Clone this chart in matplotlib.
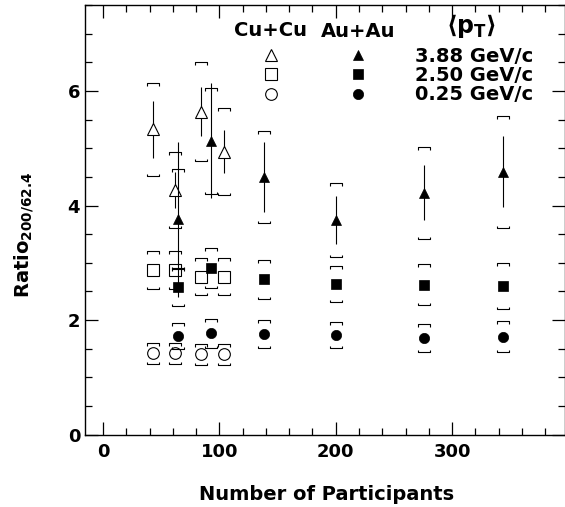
import matplotlib
matplotlib.use('Agg')
import matplotlib.pyplot as plt
from matplotlib.path import Path
from matplotlib.legend_handler import HandlerTuple
from matplotlib.ticker import MultipleLocator, FixedLocator
import numpy as np

plt.rcParams['font.family'] = ['DejaVu Sans']
plt.rcParams['font.weight'] = 'bold'
plt.rcParams['mathtext.fontset'] = 'dejavusans'
plt.rcParams['mathtext.default'] = 'bf'

# ---------------- data ----------------
npart_auau = [64, 93, 138, 200, 276, 344]
npart_cucu = [43, 62, 84, 104]

auau_388 = [3.76, 5.13, 4.50, 3.75, 4.22, 4.59]
auau_388_stat = [1.35, 1.00, 0.61, 0.42, 0.48, 0.62]
auau_388_sys = [0.87, 0.93, 0.80, 0.65, 0.80, 0.98]

auau_250 = [2.58, 2.91, 2.71, 2.63, 2.62, 2.60]
auau_250_sys = [0.33, 0.345, 0.34, 0.32, 0.36, 0.40]

auau_025 = [1.72, 1.77, 1.76, 1.74, 1.69, 1.71]
auau_025_sys = [0.23, 0.25, 0.24, 0.22, 0.24, 0.27]

cucu_388 = [5.33, 4.27, 5.64, 4.94]
cucu_388_stat = [0.50, 0.31, 0.43, 0.38]
cucu_388_sys = [0.81, 0.67, 0.87, 0.76]

cucu_250 = [2.87, 2.87, 2.76, 2.76]
cucu_250_sys = [0.33, 0.33, 0.32, 0.32]

cucu_025 = [1.42, 1.42, 1.40, 1.40]
cucu_025_sys = [0.18, 0.18, 0.185, 0.185]

pt_labels = ['3.88 GeV/c', '2.50 GeV/c', '0.25 GeV/c']
x_ticks = [0, 100, 200, 300]
y_ticks = [0, 2, 4, 6]

# ---------------- figure ----------------
W, H = 565, 507
fig = plt.figure(figsize=(W / 100, H / 100), dpi=100)
ax = fig.add_axes([85 / W, 1 - 434.7 / H, 480 / W, 429.7 / H])
ax.set_xlim(-15.5, 397)
ax.set_ylim(0, 7.5)

for sp in ax.spines.values():
    sp.set_linewidth(1.0)

ax.xaxis.set_major_locator(FixedLocator(x_ticks))
ax.xaxis.set_minor_locator(MultipleLocator(20))
ax.yaxis.set_major_locator(FixedLocator(y_ticks))
ax.yaxis.set_minor_locator(MultipleLocator(0.5))
ax.tick_params(which='both', direction='in', top=True, right=True, width=0.9)
ax.tick_params(which='major', length=9.5)
ax.tick_params(which='minor', length=5)
ax.tick_params(axis='x', which='major', pad=6, labelsize=13)
ax.tick_params(axis='y', which='major', pad=3.5, labelsize=13)
for lab in ax.get_xticklabels() + ax.get_yticklabels():
    lab.set_fontweight('bold')

top_br = Path([(-1, -0.4), (-1, 0), (1, 0), (1, -0.4)],
              [Path.MOVETO, Path.LINETO, Path.LINETO, Path.LINETO])
bot_br = Path([(-1, 0.4), (-1, 0), (1, 0), (1, 0.4)],
              [Path.MOVETO, Path.LINETO, Path.LINETO, Path.LINETO])


def sys_brackets(x, y, s, z):
    y = np.asarray(y, float)
    s = np.asarray(s, float)
    kw = dict(ls='none', ms=9, mfc='none', mec='black', mew=0.8, zorder=z)
    ax.plot(x, y + s, marker=top_br, **kw)
    ax.plot(x, y - s, marker=bot_br, **kw)


ms_fill = 7.4
ms_open = 8.4
open_kw = dict(ls='none', mfc='white', mec='black', mew=0.8, ms=ms_open,
               ecolor='black', elinewidth=0.8, capsize=0)
fill_kw = dict(ls='none', mfc='black', mec='black', mew=0.5, ms=ms_fill,
               ecolor='black', elinewidth=0.8, capsize=0)

# Cu+Cu (open)
cu_tri = ax.errorbar(npart_cucu, cucu_388, yerr=cucu_388_stat, marker='^', zorder=2, **open_kw)
cu_sq = ax.errorbar(npart_cucu, cucu_250, marker='s', zorder=2, **open_kw)
cu_ci = ax.errorbar(npart_cucu, cucu_025, marker='o', zorder=2, **open_kw)
sys_brackets(npart_cucu, cucu_388, cucu_388_sys, 2)
sys_brackets(npart_cucu, cucu_250, cucu_250_sys, 2)
sys_brackets(npart_cucu, cucu_025, cucu_025_sys, 2)

# Au+Au (filled)
au_tri = ax.errorbar(npart_auau, auau_388, yerr=auau_388_stat, marker='^', zorder=3, **fill_kw)
au_sq = ax.errorbar(npart_auau, auau_250, marker='s', zorder=3, **fill_kw)
au_ci = ax.errorbar(npart_auau, auau_025, marker='o', zorder=3, **fill_kw)
sys_brackets(npart_auau, auau_388, auau_388_sys, 3)
sys_brackets(npart_auau, auau_250, auau_250_sys, 3)
sys_brackets(npart_auau, auau_025, auau_025_sys, 3)

# legend
handles = [(cu_tri[0], au_tri[0]), (cu_sq[0], au_sq[0]), (cu_ci[0], au_ci[0])]
leg = ax.legend(handles=handles, labels=pt_labels,
                handler_map={tuple: HandlerTuple(ndivide=None, pad=0)},
                loc='upper left', bbox_to_anchor=(0.298, 0.902),
                borderpad=0, borderaxespad=0, frameon=False,
                handlelength=8.9, handletextpad=0.72, labelspacing=0.01,
                numpoints=1, prop={'weight': 'bold', 'size': 14})

ax.text(0.386, 0.928, 'Cu+Cu', transform=ax.transAxes, ha='center',
        va='baseline', fontsize=14, fontweight='bold')
ax.text(0.570, 0.925, 'Au+Au', transform=ax.transAxes, ha='center',
        va='baseline', fontsize=14, fontweight='bold')
ax.text(0.804, 0.934, r'$\langle\mathbf{p}_{\mathbf{T}}\rangle$', transform=ax.transAxes,
        ha='center', va='baseline', fontsize=17)

fig.text(24 / W, 1 - 235 / H, r'Ratio$_{\mathbf{200/62.4}}$', rotation=90,
         ha='center', va='center', fontsize=14, fontweight='bold')
fig.text(326.8 / W, 1 - 500 / H, 'Number of Participants', ha='center',
         va='baseline', fontsize=14, fontweight='bold')

fig.savefig('out.png', dpi=100)
